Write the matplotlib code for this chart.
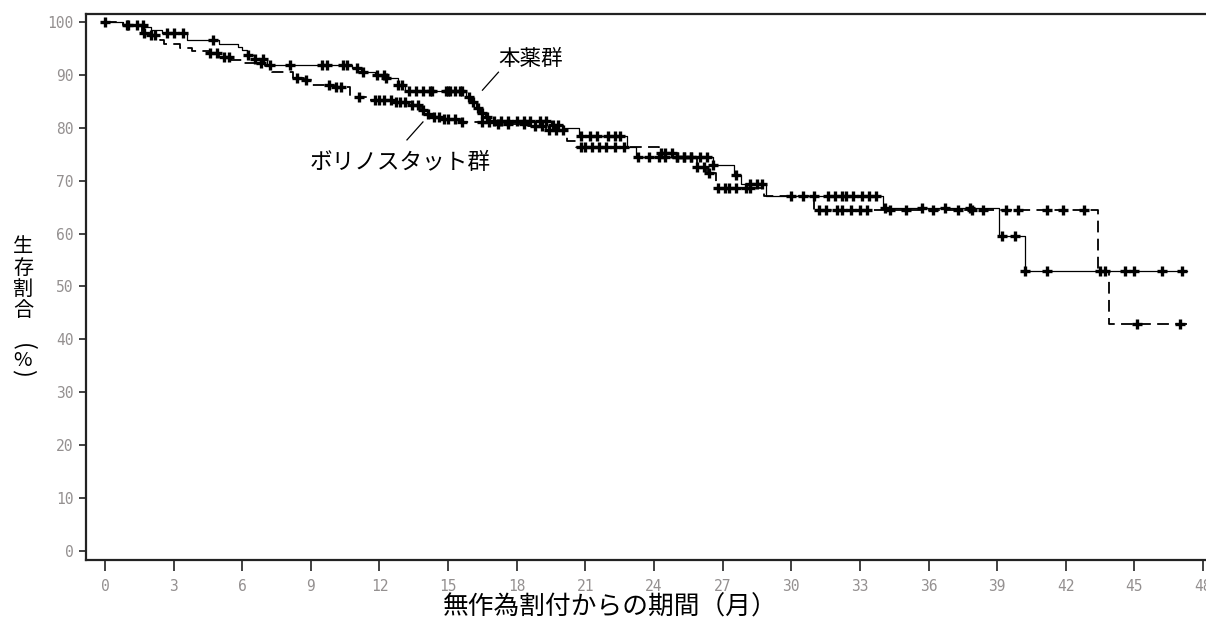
import numpy as np
import matplotlib
matplotlib.use("Agg")
import matplotlib.pyplot as plt

plt.rcParams['font.family'] = ['Noto Sans CJK JP', 'DejaVu Sans']

# ---- data ----
solid_t = [0, 0.8, 1.7, 2.0, 2.5, 3.6, 5.0, 5.8, 6.0, 6.2, 6.5, 7.1, 10.8, 11.2, 11.8,
           12.3, 12.8, 13.1, 15.8, 16.0, 16.2, 16.4, 16.6, 16.8, 19.5, 20.0, 20.7, 22.8,
           23.2, 26.6, 27.5, 27.8, 28.9, 34.0, 39.1, 40.2]
solid_s = [100, 99.5, 99.0, 98.4, 97.9, 96.5, 95.9, 95.3, 94.7, 93.8, 93.0, 91.9, 91.3, 90.6, 90.0,
           89.4, 88.1, 87.0, 85.8, 84.8, 83.8, 82.8, 82.0, 81.3, 80.6, 79.9, 78.5, 76.4,
           74.5, 73.0, 71.1, 69.3, 67.1, 64.8, 59.5, 53.0]
solid_end = 47.3
solid_cens = [0.0, 0.96, 1.4, 1.66, 2.7, 3.0, 3.4, 4.7, 6.25, 6.55, 6.9, 7.2, 8.1, 9.5, 9.7,
              10.4, 10.6, 11.0, 11.3, 11.9, 12.2, 12.3, 12.8, 13.0, 13.3, 13.6, 13.9, 14.2,
              14.3, 14.9, 15.0, 15.1, 15.3, 15.5, 15.6, 15.9, 16.1, 16.3, 16.5, 16.7, 17.0,
              17.3, 17.6, 18.0, 18.3, 18.6, 19.0, 19.3, 19.6, 19.8, 20.8, 21.2, 21.5, 22.0,
              22.3, 22.5, 23.3, 23.8, 24.2, 24.5, 25.0, 25.3, 25.6, 26.0, 26.3, 26.6, 27.6,
              28.2, 28.5, 28.7, 30.0, 30.5, 31.0, 31.6, 31.9, 32.2, 32.4, 32.7, 33.1, 33.4,
              33.7, 34.1, 35.7, 36.7, 37.8, 39.2, 39.8, 40.2, 41.2, 43.5, 44.6, 45.0, 46.2, 47.1]

dashed_t = [0, 0.8, 1.6, 2.0, 2.4, 2.6, 3.3, 3.8, 4.6, 5.0, 5.5, 6.0, 7.0, 7.3, 8.2, 8.7, 9.0,
            10.0, 10.7, 11.5, 12.6, 13.4, 13.8, 14.1, 14.4, 14.8, 15.5, 17.0, 18.5, 19.3,
            20.2, 20.6, 24.2, 25.0, 25.9, 26.3, 26.7, 28.8, 31.0, 43.4, 43.9]
dashed_s = [100, 99.5, 98.0, 97.5, 96.6, 95.9, 95.0, 94.6, 94.1, 93.4, 92.8, 92.2, 91.6, 90.6, 89.4, 89.0, 88.1,
            87.7, 85.9, 85.3, 84.9, 84.3, 83.4, 82.6, 82.0, 81.7, 81.1, 80.8, 80.4, 79.5,
            77.5, 76.4, 75.3, 74.4, 72.6, 71.5, 68.6, 67.1, 64.5, 53.0, 42.9]
dashed_end = 47.3
dashed_cens = [1.0, 1.7, 2.0, 2.2, 4.6, 4.9, 5.2, 5.4, 6.8, 8.4, 8.8, 9.8, 10.1, 10.3, 11.1,
               11.8, 12.0, 12.2, 12.5, 12.7, 12.9, 13.1, 13.4, 13.7, 13.9, 14.1, 14.4, 14.6,
               14.8, 15.0, 15.3, 15.6, 16.5, 16.8, 17.2, 17.6, 18.3, 18.8, 19.1, 19.4, 19.7,
               20.0, 20.8, 21.0, 21.3, 21.6, 21.9, 22.3, 22.7, 24.3, 24.5, 24.8, 25.0, 25.3,
               25.6, 25.9, 26.2, 26.4, 26.8, 27.1, 27.3, 27.6, 28.0, 28.2, 31.2, 31.5, 32.0,
               32.2, 32.6, 33.0, 33.3, 34.3, 35.0, 36.2, 37.3, 37.9, 38.4, 39.4, 39.9, 41.2,
               41.9, 42.8, 43.7, 45.1, 47.0]

x_ticks = list(range(0, 49, 3))
y_ticks = list(range(0, 101, 10))

label_drug = "本薬群"
label_ctrl = "ボリノスタット群"
xlabel = "無作為割付からの期間（月）"
ylabel_chars = ["生", "存", "割", "合", "(", "%", ")"]


def step_value(times, surv, x):
    idx = np.searchsorted(np.asarray(times), np.asarray(x), side='right') - 1
    return np.asarray(surv)[np.clip(idx, 0, None)]


fig = plt.figure(figsize=(12.06, 6.30), dpi=100)
ax = fig.add_axes([86/1206, 1 - 560/630, 1 - 86/1206, (560 - 14)/630])

# curves
st = solid_t + [solid_end]
ss = solid_s + [solid_s[-1]]
ax.step(st, ss, where='post', color='black', lw=0.9)
dt = dashed_t + [dashed_end]
ds = dashed_s + [dashed_s[-1]]
ax.step(dt, ds, where='post', color='black', lw=1.3, dashes=(6.5, 3.5))

ax.plot(solid_cens, step_value(solid_t, solid_s, solid_cens), ls='none', marker='+',
        ms=7, mew=2.4, color='black')
ax.plot(dashed_cens, step_value(dashed_t, dashed_s, dashed_cens), ls='none', marker='+',
        ms=7, mew=2.4, color='black')

# annotations
ax.text(18.6, 93.0, label_drug, fontsize=15.5, ha='center', va='center')
ax.plot([17.2, 16.5], [90.5, 87.1], color='black', lw=0.9)
ax.text(12.9, 73.4, label_ctrl, fontsize=16.3, ha='center', va='center')
ax.plot([13.9, 13.2], [81.1, 77.7], color='black', lw=0.9)

ax.set_xlim(-0.83, 48.13)
ax.set_ylim(-1.7, 101.5)
ax.set_xticks(x_ticks)
ax.set_yticks(y_ticks)
tick_color = '#949090'
ax.set_xticklabels([str(v) for v in x_ticks], family='DejaVu Sans Mono', fontsize=10.5,
                   color=tick_color)
ax.set_yticklabels([str(v) for v in y_ticks], family='DejaVu Sans Mono', fontsize=10.5,
                   color=tick_color)
ax.tick_params(axis='x', direction='out', length=8, width=1.3, pad=6, color='#333333')
ax.tick_params(axis='y', direction='out', length=5, width=1.3, pad=4, color='#333333')

for s in ['left', 'bottom', 'top']:
    ax.spines[s].set_linewidth(1.6)
    ax.spines[s].set_color('#222222')
ax.spines['right'].set_visible(False)

fig.text(610/1206, 1 - 608/630, xlabel, fontsize=18.5, ha='center', va='center')

# vertical y label, one character per line (parentheses turned for vertical writing)
ylab_y = [247, 268, 289, 310, 347, 360, 373]
ylab_rot = [0, 0, 0, 0, -90, 0, -90]
ylab_size = [14.5, 14.5, 14.5, 14.5, 17, 14.5, 17]
for ch, yy, rot, fs in zip(ylabel_chars, ylab_y, ylab_rot, ylab_size):
    fig.text(23/1206, 1 - yy/630, ch, fontsize=fs, ha='center', va='center',
             rotation=rot)

fig.savefig("out.png", dpi=100)
